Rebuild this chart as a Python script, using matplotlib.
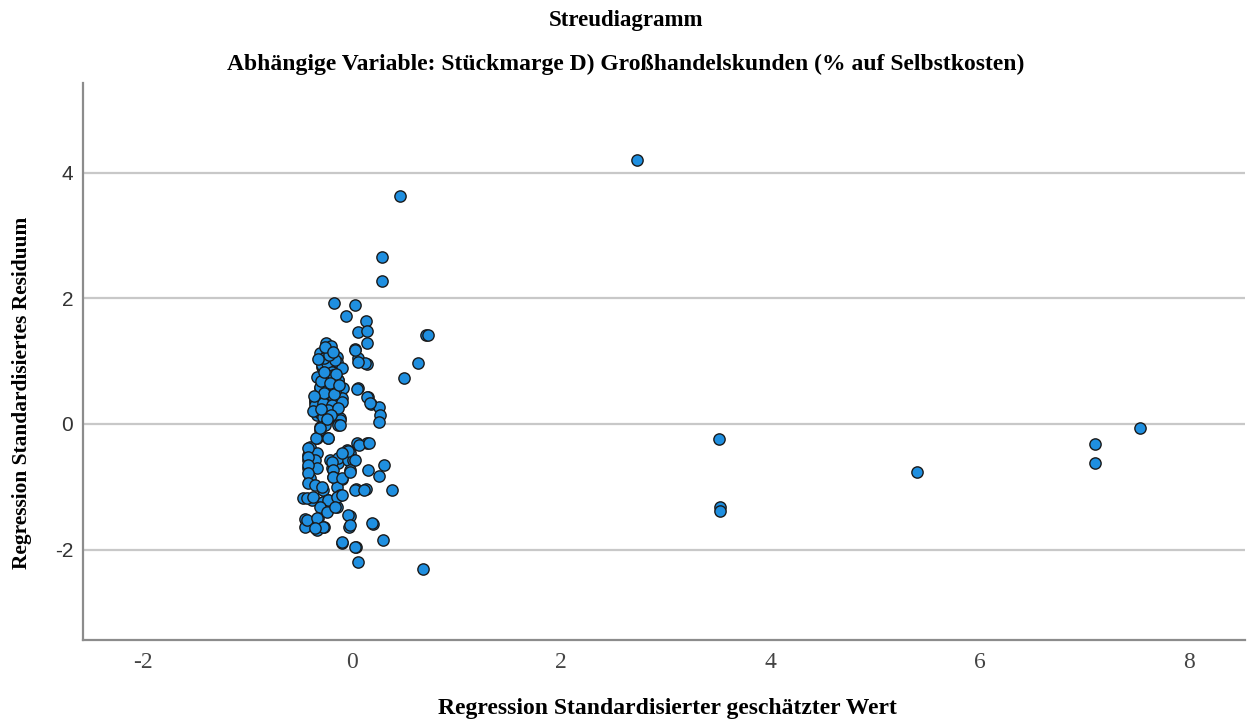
import matplotlib
matplotlib.use("Agg")
import matplotlib.pyplot as plt

plt.rcParams["axes.unicode_minus"] = False

# standardized predicted values (x) and standardized residuals (y)
pred_outer = [2.72, 0.46, 0.29, 0.29, 3.51, 3.52, 3.52, 5.40, 7.10, 7.10, 7.53,
              0.71, 0.73, 0.63, 0.50, 0.68, 0.38]
resid_outer = [4.21, 3.63, 2.66, 2.28, -0.24, -1.32, -1.39, -0.76, -0.32, -0.62, -0.06,
               1.42, 1.41, 0.97, 0.73, -2.31, -1.05]

pred_upper = [-0.17, 0.03, -0.06, 0.13, 0.06, 0.14, 0.14, 0.03, 0.06, 0.14, 0.06,
              0.15, 0.18, 0.26, 0.27, 0.26, 0.05, 0.03, 0.12, 0.06, 0.14, 0.17,
              -0.25, -0.31, -0.24, -0.14, -0.26, -0.14, -0.10, -0.29, -0.21, -0.26,
              -0.13, -0.09, -0.31, -0.21, -0.35, -0.24, -0.11, -0.33, -0.23, -0.28,
              -0.11, -0.13, -0.31, -0.33, -0.23, -0.29, -0.24, -0.16, -0.33, -0.19,
              -0.13, -0.31, -0.23, -0.28, -0.19, -0.10, -0.35, -0.35, -0.28, -0.19,
              -0.10, -0.31, -0.23, -0.13, -0.28, -0.11, -0.13, -0.31, -0.26, -0.11,
              -0.20, -0.27, -0.18, -0.27, -0.16, -0.37, -0.20, -0.15, -0.30, -0.22,
              -0.26, -0.18, -0.32, -0.21, -0.27, -0.17, -0.36, -0.24, -0.30, -0.12]
resid_upper = [1.93, 1.90, 1.72, 1.64, 1.47, 1.48, 1.29, 1.20, 1.05, 0.96, 0.57,
               0.43, 0.32, 0.27, 0.14, 0.03, 0.56, 1.18, 0.97, 0.99, 0.43, 0.33,
               1.29, 1.13, 1.18, 1.07, 0.97, 0.99, 0.89, 0.91, 0.86, 0.73,
               0.70, 0.57, 0.57, 0.59, 0.35, 0.43, 0.41, 0.27, 0.27, 0.11,
               0.10, 0.02, -0.05, 0.14, 1.18, 0.94, 0.97, 1.02, 0.75, 0.83,
               0.70, 0.59, 0.62, 0.43, 0.46, 0.41, 0.38, 0.30, 0.33, 0.30,
               0.35, 0.18, 0.22, 0.25, 0.11, 0.06, -0.02, -0.10, -0.02, -0.02,
               1.24, 1.05, 0.78, 0.50, 0.52, 0.20, 0.15, 0.80, 0.68, 1.10,
               1.22, 1.15, 1.03, 0.65, 0.83, 0.48, 0.45, 0.08, 0.24, 0.62]

pred_lower = [-0.33, -0.23, -0.40, -0.42, -0.42, -0.42, -0.40, -0.33, -0.35, -0.33,
              -0.21, -0.19, -0.13, -0.05, -0.02, 0.05, 0.14, -0.13, -0.04, 0.01,
              0.15, 0.07, 0.16, 0.31, 0.26, 0.04, 0.13, -0.04, -0.10, 0.03,
              -0.02, -0.19, -0.18, -0.18, -0.10, -0.14, -0.11, -0.28, -0.23, -0.28,
              -0.38, -0.47, -0.14, -0.24, -0.32, -0.45, -0.45, -0.33, -0.27, -0.02,
              -0.03, 0.20, 0.30, -0.10, 0.04, 0.06, -0.42, -0.42, -0.42, -0.42,
              -0.42, -0.34, -0.31, -0.23, -0.35, -0.29, -0.18, -0.10, -0.02, -0.43,
              -0.37, -0.28, -0.23, -0.14, -0.10, -0.31, -0.24, -0.16, -0.43, -0.33,
              -0.28, -0.35, -0.04, -0.02, 0.03, 0.11, -0.10, 0.03, 0.19]
resid_lower = [-0.22, -0.22, -0.37, -0.49, -0.57, -0.70, -0.86, -0.46, -0.57, -0.70,
               -0.57, -0.70, -0.62, -0.41, -0.46, -0.30, -0.30, -0.54, -0.57, -0.57,
               -0.73, -0.33, -0.30, -0.65, -0.83, -1.04, -1.04, -0.43, -0.46, -0.57,
               -0.73, -0.61, -0.73, -0.84, -0.88, -1.00, -1.13, -1.05, -1.21, -1.24,
               -1.21, -1.18, -1.32, -1.39, -1.50, -1.51, -1.64, -1.69, -1.64, -1.47,
               -1.64, -1.59, -1.85, -1.90, -1.96, -2.20, -0.38, -0.53, -0.65, -0.78,
               -0.94, -0.22, -0.06, -0.22, -0.97, -1.00, -0.84, -0.86, -0.76, -1.18,
               -1.16, -1.24, -1.21, -1.16, -1.13, -1.32, -1.40, -1.32, -1.53, -1.50,
               -1.64, -1.66, -1.45, -1.61, -1.05, -1.05, -1.88, -1.96, -1.58]

x_vals = pred_outer + pred_upper + pred_lower
y_vals = resid_outer + resid_upper + resid_lower

x_ticks = [-2, 0, 2, 4, 6, 8]
y_ticks = [-2, 0, 2, 4]

title_main = "Streudiagramm"
title_sub = "Abhängige Variable: Stückmarge D) Großhandelskunden (% auf Selbstkosten)"
x_label = "Regression Standardisierter geschätzter Wert"
y_label = "Regression Standardisiertes Residuum"

serif = "Liberation Serif"
sans = "Liberation Sans"

fig = plt.figure(figsize=(12.53, 7.27), dpi=100)
ax = fig.add_axes([0.0662, 0.1197, 0.9274, 0.7661])

ax.scatter(x_vals, y_vals, s=66, facecolor="#1f8fe0", edgecolor="#1a1a1a",
           linewidth=1.0, zorder=3)

ax.set_xlim(-2.57, 8.53)
ax.set_ylim(-3.44, 5.43)
ax.set_xticks(x_ticks)
ax.set_yticks(y_ticks)
ax.grid(axis="y", color="#c8c8c8", linewidth=1.6)
ax.set_axisbelow(True)

for side in ["top", "right"]:
    ax.spines[side].set_visible(False)
for side in ["left", "bottom"]:
    ax.spines[side].set_color("#8c8c8c")
    ax.spines[side].set_linewidth(1.6)

ax.tick_params(axis="x", length=0, pad=8.5)
ax.tick_params(axis="y", length=0, pad=7)
for lbl in ax.get_xticklabels():
    lbl.set_fontfamily(serif)
    lbl.set_fontsize(17)
    lbl.set_color("#444444")
for lbl in ax.get_yticklabels():
    lbl.set_fontfamily(sans)
    lbl.set_fontsize(15)
    lbl.set_color("#333333")

fig.text(0.4995, 0.972, title_main, ha="center", va="center",
         family=serif, weight="bold", fontsize=16.5)
fig.text(0.4995, 0.911, title_sub, ha="center", va="center",
         family=serif, weight="bold", fontsize=17)
fig.text(0.5327, 0.026, x_label, ha="center", va="center",
         family=serif, weight="bold", fontsize=17)
fig.text(0.0175, 0.459, y_label, ha="center", va="center", rotation=90,
         family=serif, weight="bold", fontsize=15.4)

fig.savefig("out.png", dpi=100)
